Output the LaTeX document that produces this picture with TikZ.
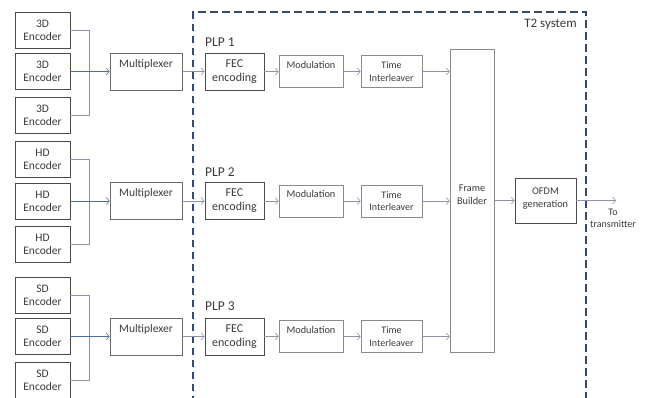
\documentclass[tikz,border=0pt]{standalone}
\usepackage{fontspec}
\setmainfont{Carlito}
\usetikzlibrary{arrows.meta}
\definecolor{frameblue}{HTML}{2F4B70}
\definecolor{linkgray}{HTML}{8C91A6}
\definecolor{linkblue}{HTML}{4D6E9E}
\definecolor{boxdark}{HTML}{4A4A4A}
\definecolor{boxmid}{HTML}{6A6A6A}
\definecolor{boxlight}{HTML}{8A8A8A}
\definecolor{txt}{HTML}{3A3A3A}
\tikzset{
  base/.style={draw, rectangle, inner sep=0pt, align=center, text=txt, line width=0.7pt},
  enc/.style={base, draw=boxdark, minimum width=55pt, minimum height=36pt, font=\fontsize{11.5}{13}\selectfont},
  mux/.style={base, draw=boxmid, minimum width=72pt, minimum height=37pt, text depth=16pt, font=\fontsize{11.5}{13}\selectfont},
  fec/.style={base, draw=boxdark, line width=0.9pt, minimum width=59pt, minimum height=37pt, font=\fontsize{12}{14}\selectfont},
  modb/.style={base, draw=boxlight, minimum width=64pt, minimum height=32pt, text depth=14pt, font=\fontsize{10.3}{12}\selectfont},
  tib/.style={base, draw=boxlight, minimum width=61pt, minimum height=32pt, font=\fontsize{10}{12.5}\selectfont},
  fbb/.style={base, draw=boxlight, minimum width=44pt, minimum height=303pt, text depth=12pt, font=\fontsize{10.3}{12.5}\selectfont},
  ofdm/.style={base, draw=boxdark, minimum width=61pt, minimum height=45pt, text depth=6pt, font=\fontsize{10.3}{12.5}\selectfont},
  link/.style={draw=linkgray, line width=0.6pt},
  arr/.style={link, -{Straight Barb[length=3pt,width=7pt]}},
  plp/.style={anchor=west, inner sep=0pt, text=txt, font=\fontsize{13.5}{15}\selectfont},
}
\begin{document}
\begin{tikzpicture}[x=1pt,y=-1pt]
\useasboundingbox (0,0) rectangle (647,397);

% T2 system frame
\draw[frameblue, line width=1.6pt, dash pattern=on 7.5pt off 4.5pt] (193,415) -- (193,12) -- (586,12) -- (586,415);
\node[anchor=east, inner sep=0pt, text=txt, font=\fontsize{13}{15}\selectfont] (t2) at (577,24) {T2 system};

% Encoders
\node[enc] (e11) at (42.5,30) {3D\\Encoder};
\node[enc] (e12) at (42.5,71.5) {3D\\Encoder};
\node[enc] (e13) at (42.5,115) {3D\\Encoder};
\node[enc] (e21) at (42.5,159) {HD\\Encoder};
\node[enc] (e22) at (42.5,201) {HD\\Encoder};
\node[enc] (e23) at (42.5,244.5) {HD\\Encoder};
\node[enc] (e31) at (42.5,295) {SD\\Encoder};
\node[enc] (e32) at (42.5,336.5) {SD\\Encoder};
\node[enc] (e33) at (42.5,380) {SD\\Encoder};

% Multiplexers
\node[mux] (m1) at (146,71.5) {Multiplexer};
\node[mux] (m2) at (146,201) {Multiplexer};
\node[mux] (m3) at (146,336.5) {Multiplexer};

% PLP chains
\foreach \r/\y in {1/71.5, 2/201, 3/336.5}{
  \node[fec] (f\r) at (234.5,\y) {FEC\\encoding};
  \node[modb] (d\r) at (311,\y) {Modulation};
  \node[tib] (t\r) at (391.5,\y) {Time\\Interleaver};
}
\node[plp] (p1) at (205,42) {PLP 1};
\node[plp] (p2) at (205,172) {PLP 2};
\node[plp] (p3) at (205,306) {PLP 3};

\node[fbb] (fb) at (472,200.5) {Frame\\Builder};
\node[ofdm] (of) at (545.5,200.5) {OFDM\\generation};
\coordinate (out) at (616,200.5);
\node[inner sep=0pt, align=center, text=txt, font=\fontsize{10}{12.5}\selectfont] (tx) at (613,218.5) {To\\transmitter};

% Encoder groups feeding each multiplexer
\foreach \g in {1,2,3}{
  \draw[link] (e\g1.east) -| (89,0 |- m\g.west);
  \draw[link] (e\g3.east) -| (89,0 |- m\g.west);
  \draw[link, draw=linkblue, -{Straight Barb[length=3pt,width=7pt]}] (e\g2.east) -- (e\g2.east -| m\g.west);
  \draw[arr] (m\g.east) -- (f\g.west);
  \draw[arr] (f\g.east) -- (d\g.west);
  \draw[arr] (d\g.east) -- (t\g.west);
  \draw[arr] (t\g.east) -- (t\g.east -| fb.west);
}
\draw[arr] (fb.east |- of.west) -- (of.west);
\draw[arr] (of.east) -- (out);
\end{tikzpicture}
\end{document}
